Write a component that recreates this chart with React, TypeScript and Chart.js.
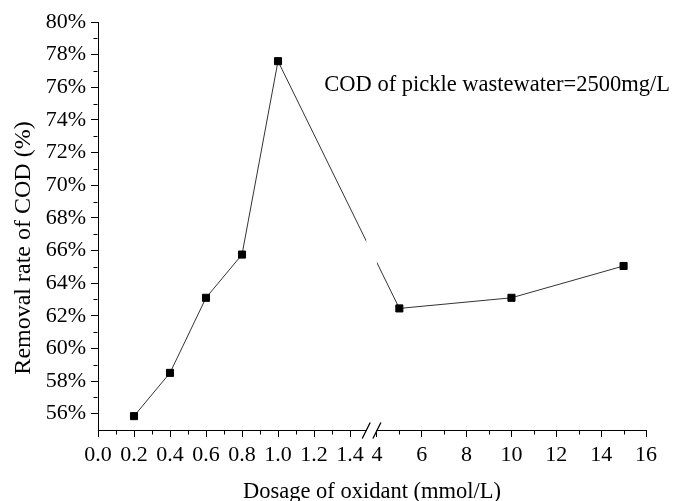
import React, { useEffect, useRef } from "react";
import { Chart, registerables, LinearScale } from "chart.js";

// ---- data ----
const dosage: number[] = [0.2, 0.4, 0.6, 0.8, 1.0, 5, 10, 15];
const removalRate: number[] = [55.85, 58.5, 63.1, 65.75, 77.6, 62.45, 63.1, 65.05];
const xTickValues: number[] = [0, 0.2, 0.4, 0.6, 0.8, 1.0, 1.2, 1.4, 4, 6, 8, 10, 12, 14, 16];
const xMinorValues: number[] = [0.1, 0.3, 0.5, 0.7, 0.9, 1.1, 1.3, 5, 7, 9, 11, 13, 15];
const yTickValues: number[] = [56, 58, 60, 62, 64, 66, 68, 70, 72, 74, 76, 78, 80];
const yMinorValues: number[] = [57, 59, 61, 63, 65, 67, 69, 71, 73, 75, 77, 79];
const xTitle = "Dosage of oxidant (mmol/L)";
const yTitle = "Removal rate of COD (%)";
const note = "COD of pickle wastewater=2500mg/L";

// axis break definition (domain values)
const LEFT_MAX = 1.52;
const RIGHT_MIN = 4;
const RIGHT_MAX = 16;
const F_LEFT = 0.4993;
const F_RIGHT = 0.509;

const FONT = "'Liberation Serif', 'Times New Roman', serif";

function toFrac(v: number): number {
  if (v <= LEFT_MAX) return (v / LEFT_MAX) * F_LEFT;
  if (v < RIGHT_MIN) return F_LEFT + ((v - LEFT_MAX) / (RIGHT_MIN - LEFT_MAX)) * (F_RIGHT - F_LEFT);
  return F_RIGHT + ((v - RIGHT_MIN) / (RIGHT_MAX - RIGHT_MIN)) * (1 - F_RIGHT);
}
function fromFrac(f: number): number {
  if (f <= F_LEFT) return (f / F_LEFT) * LEFT_MAX;
  if (f < F_RIGHT) return LEFT_MAX + ((f - F_LEFT) / (F_RIGHT - F_LEFT)) * (RIGHT_MIN - LEFT_MAX);
  return RIGHT_MIN + ((f - F_RIGHT) / (1 - F_RIGHT)) * (RIGHT_MAX - RIGHT_MIN);
}

class BrokenLinearScale extends LinearScale {
  static id = "brokenLinear";
  static defaults = { ...(LinearScale as any).defaults };
  getPixelForValue(value: number) {
    return (this as any).getPixelForDecimal(toFrac(value));
  }
  getValueForPixel(pixel: number) {
    return fromFrac((this as any).getDecimalForPixel(pixel));
  }
}

Chart.register(...registerables, BrokenLinearScale as any);

const decorPlugin = {
  id: "decor",
  afterDatasetsDraw(chart: any) {
    const { ctx, chartArea, scales } = chart;
    const x = scales.x;
    const gL = x.getPixelForValue(1.49);
    const gR = x.getPixelForValue(RIGHT_MIN);
    ctx.save();
    ctx.fillStyle = "#fff";
    ctx.fillRect(gL, chartArea.top, gR - gL, chartArea.bottom - chartArea.top - 2);
    ctx.restore();
  },
  afterDraw(chart: any) {
    const { ctx, chartArea, scales } = chart;
    const x = scales.x;
    const y = scales.y;
    ctx.save();
    ctx.strokeStyle = "#000";
    ctx.lineWidth = 1;
    // minor ticks
    ctx.beginPath();
    const by = Math.round(chartArea.bottom) + 0.5;
    xMinorValues.forEach((v) => {
      const px = Math.round(x.getPixelForValue(v)) + 0.5;
      ctx.moveTo(px, by);
      ctx.lineTo(px, by + 4);
    });
    const lx = Math.round(chartArea.left) - 0.5;
    yMinorValues.forEach((v) => {
      const py = Math.round(y.getPixelForValue(v)) + 0.5;
      ctx.moveTo(lx, py);
      ctx.lineTo(lx - 4, py);
    });
    ctx.stroke();
    // axis break
    const gL = x.getPixelForValue(1.49);
    const gR = x.getPixelForValue(RIGHT_MIN);
    ctx.fillStyle = "#fff";
    ctx.fillRect(gL + 0.5, by - 2, gR - gL - 1, 4);
    ctx.beginPath();
    [gL, gR].forEach((c) => {
      ctx.moveTo(c - 4, by + 8);
      ctx.lineTo(c + 4, by - 8);
    });
    ctx.lineWidth = 1.3;
    ctx.stroke();
    // titles
    ctx.fillStyle = "#000";
    ctx.font = `22.5px ${FONT}`;
    ctx.textAlign = "center";
    ctx.textBaseline = "alphabetic";
    ctx.fillText(xTitle, (chartArea.left + chartArea.right) / 2, 498);
    ctx.save();
    ctx.translate(30, 248);
    ctx.rotate(-Math.PI / 2);
    ctx.font = `24px ${FONT}`;
    ctx.fillText(yTitle, 0, 0);
    ctx.restore();
    // annotation
    ctx.font = `22.5px ${FONT}`;
    ctx.textAlign = "right";
    ctx.fillText(note, chart.width - 3, 91);
    ctx.restore();
  },
};

export default function App() {
  const ref = useRef<HTMLCanvasElement>(null);
  useEffect(() => {
    document.body.style.margin = "0";
    const canvas = ref.current!;
    const chart = new Chart(canvas, {
      type: "line",
      data: {
        datasets: [
          {
            data: dosage.map((d, i) => ({ x: d, y: removalRate[i] })),
            borderColor: "#333",
            borderWidth: 1,
            pointStyle: "rect",
            pointRadius: 5,
            pointBorderWidth: 1,
            pointBackgroundColor: "#000",
            pointBorderColor: "#000",
            tension: 0,
            fill: false,
          },
        ],
      },
      options: {
        responsive: false,
        animation: false,
        devicePixelRatio: 1,
        layout: { padding: { top: 22, right: 27, left: 0, bottom: 0 } },
        plugins: { legend: { display: false }, tooltip: { enabled: false } },
        scales: {
          x: {
            type: "brokenLinear" as any,
            min: 0,
            max: 16,
            position: "bottom",
            grid: { drawOnChartArea: false, drawTicks: true, tickLength: 7, color: "#000", lineWidth: 1 },
            border: { display: true, color: "#000", width: 1 },
            ticks: {
              autoSkip: false,
              maxRotation: 0,
              minRotation: 0,
              padding: 5,
              color: "#000",
              font: { family: FONT, size: 22 },
              callback: (v: any) => (Number(v) < 2 ? Number(v).toFixed(1) : String(v)),
            },
            afterBuildTicks: (s: any) => {
              s.ticks = xTickValues.map((v) => ({ value: v }));
            },
            afterFit: (s: any) => {
              s.height = 71;
            },
          } as any,
          y: {
            type: "linear",
            min: 55,
            max: 80,
            grid: { drawOnChartArea: false, drawTicks: true, tickLength: 7, color: "#000", lineWidth: 1 },
            border: { display: true, color: "#000", width: 1 },
            ticks: {
              autoSkip: false,
              padding: 5,
              color: "#000",
              font: { family: FONT, size: 22 },
              callback: (v: any) => `${v}%`,
            },
            afterBuildTicks: (s: any) => {
              s.ticks = yTickValues.map((v) => ({ value: v }));
            },
            afterFit: (s: any) => {
              s.width = 98;
            },
          },
        },
      },
      plugins: [decorPlugin],
    });
    return () => chart.destroy();
  }, []);
  return (
    <div style={{ width: 673, height: 501 }}>
      <canvas ref={ref} width={673} height={501} style={{ display: "block" }} />
    </div>
  );
}
